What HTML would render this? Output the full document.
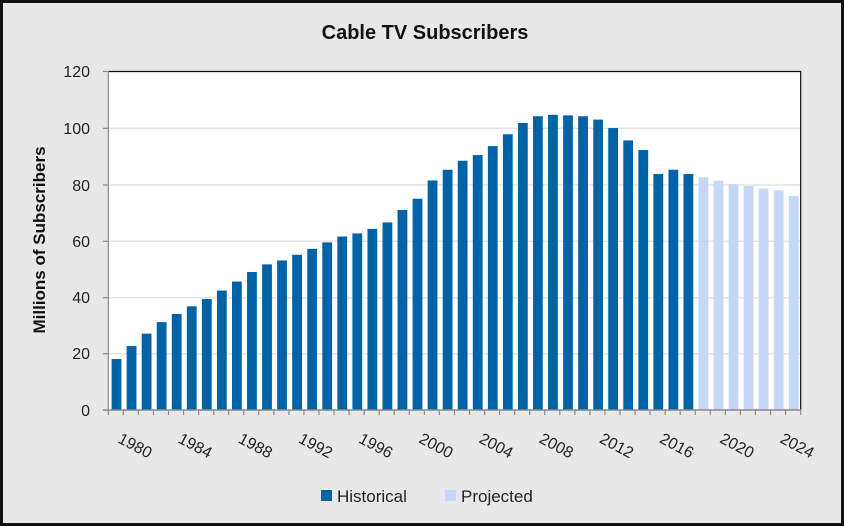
<!DOCTYPE html>
<html><head><meta charset="utf-8"><style>
html,body{margin:0;padding:0;background:#e8e8e8}
svg{display:block}
text{font-family:"Liberation Sans",sans-serif}
</style></head><body>
<svg width="844" height="526" viewBox="0 0 844 526" xmlns="http://www.w3.org/2000/svg">
<rect x="0" y="0" width="844" height="526" fill="#e8e8e8"/>
<rect x="1.5" y="1.5" width="841" height="523" fill="none" stroke="#111" stroke-width="3"/>
<text x="425" y="39" text-anchor="middle" font-size="20" font-weight="bold" fill="#111">Cable TV Subscribers</text>
<rect x="108.3" y="71.3" width="692.4" height="338.7" fill="#fff"/>
<g stroke="#e4e4e4" stroke-width="1.5">
<line x1="108" y1="128.3" x2="800" y2="128.3"/><line x1="108" y1="185" x2="800" y2="185"/>
<line x1="108" y1="241.3" x2="800" y2="241.3"/><line x1="108" y1="297.7" x2="800" y2="297.7"/>
<line x1="108" y1="353.7" x2="800" y2="353.7"/>
</g>
<line x1="108" y1="71.5" x2="801" y2="71.5" stroke="#111" stroke-width="1.2"/>
<line x1="800.7" y1="71" x2="800.7" y2="410" stroke="#111" stroke-width="1.2"/>
<g id="bars"></g>
<line x1="108.3" y1="71" x2="108.3" y2="410" stroke="#888" stroke-width="1.2"/>
<line x1="103" y1="410" x2="801" y2="410" stroke="#888" stroke-width="1.5"/>
<g stroke="#888" stroke-width="1.2">
<line x1="103" y1="71.5" x2="108" y2="71.5"/><line x1="103" y1="128.3" x2="108" y2="128.3"/>
<line x1="103" y1="185" x2="108" y2="185"/><line x1="103" y1="241.3" x2="108" y2="241.3"/>
<line x1="103" y1="297.7" x2="108" y2="297.7"/><line x1="103" y1="353.7" x2="108" y2="353.7"/>
</g>
<g id="xt" stroke="#888" stroke-width="1.2"></g>
<g font-size="16" fill="#222" text-anchor="end">
<text x="90" y="77">120</text><text x="90" y="134">100</text><text x="90" y="191">80</text>
<text x="90" y="247">60</text><text x="90" y="303">40</text><text x="90" y="359">20</text><text x="90" y="416">0</text>
</g>
<text transform="translate(45,240) rotate(-90)" text-anchor="middle" font-size="17" font-weight="bold" fill="#111">Millions of Subscribers</text>
<g id="xl" font-size="16" fill="#222"></g>
<rect x="321" y="490" width="11" height="11" fill="#0063a5"/>
<text x="337" y="502" font-size="17" fill="#222">Historical</text>
<rect x="445" y="490" width="11" height="11" fill="#c5d8f8"/>
<text x="461" y="502" font-size="17" fill="#222">Projected</text>
<script>
var v=[18.1,22.7,27.1,31.2,34.1,36.8,39.4,42.4,45.6,49,51.7,53.1,55.1,57.2,59.5,61.6,62.7,64.3,66.6,71,75,81.5,85.3,88.5,90.5,93.7,97.9,101.9,104.3,104.8,104.6,104.3,103.1,100.1,95.7,92.3,83.8,85.3,83.8,82.6,81.4,80.2,79.5,78.6,78,76];
var ns="http://www.w3.org/2000/svg",b=document.getElementById("bars"),xt=document.getElementById("xt"),xl=document.getElementById("xl");
var x0=108.3,w=15.05,k=2.8167;
for(var i=0;i<46;i++){
 var r=document.createElementNS(ns,"rect");var h=v[i]*k;
 r.setAttribute("x",x0+i*w+3.3);r.setAttribute("width",9.8);r.setAttribute("y",410-h);r.setAttribute("height",h);
 r.setAttribute("fill",i<39?"#0063a5":"#c5d8f8");b.appendChild(r);
 var l=document.createElementNS(ns,"line");var lx=x0+i*w;
 l.setAttribute("x1",lx);l.setAttribute("x2",lx);l.setAttribute("y1",410);l.setAttribute("y2",415);xt.appendChild(l);
}
var l2=document.createElementNS(ns,"line");l2.setAttribute("x1",800.7);l2.setAttribute("x2",800.7);l2.setAttribute("y1",410);l2.setAttribute("y2",415);xt.appendChild(l2);
for(var yr=1980;yr<=2024;yr+=4){
 var i=yr-1979,cx=x0+(i+0.5)*w;
 var t=document.createElementNS(ns,"text");
 t.setAttribute("transform","translate("+(cx-14)+",442) rotate(28)");
 t.textContent=yr;xl.appendChild(t);
}
</script>
</svg>
</body></html>
